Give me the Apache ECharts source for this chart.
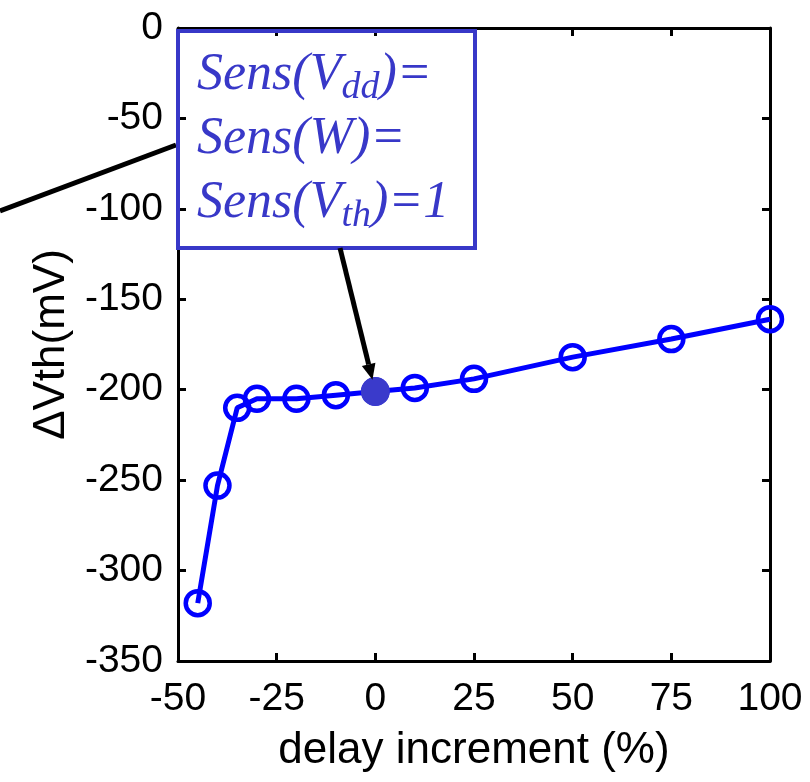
<!DOCTYPE html>
<html><head><meta charset="utf-8">
<script src="https://cdn.jsdelivr.net/npm/echarts@6/dist/echarts.min.js"></script>
<style>html,body{margin:0;padding:0;background:#fff}#c{width:810px;height:782px}</style>
</head><body><div id="c"></div>
<script>
// ---- data ----
const delayIncrement = [-45, -40, -35, -30, -20, -10, 0, 10, 25, 50, 75, 100];
const deltaVth = [-318, -253, -210, -205, -205, -203, -201, -199, -194, -182, -172, -161];
const highlightX = [0];
const highlightY = [-201];
const xMin = -50, xMax = 100, xInterval = 25;
const yMin = -350, yMax = 0, yInterval = 50;
const xName = 'delay increment (%)';
const yName = 'ΔVth(mV)';
const noteText = '{m|Sens(V}{s|dd}{m|)=}\n{m|Sens(W)=}\n{m|Sens(V}{s|th}{m|)=1}';

// ---- chart ----
const chart = echarts.init(document.getElementById('c'), null, {renderer: 'canvas'});
const FONT = "'Liberation Sans', Arial, sans-serif";
const SERIF = "'Liberation Serif', 'Times New Roman', serif";
const axisLine = {onZero: false, lineStyle: {color: '#000', width: 3}};
const tick = {inside: true, length: 8, lineStyle: {color: '#000', width: 3}};
const lbl = {fontSize: 39, color: '#000', fontFamily: FONT};
const noteColor = '#3838c8';

const lineData = delayIncrement.map((x, i) => [x, deltaVth[i]]);
const hiData = highlightX.map((x, i) => [x, highlightY[i]]);

chart.setOption({
  animation: false,
  backgroundColor: '#fff',
  grid: {left: 178, top: 28, right: 40, bottom: 121},
  xAxis: [
    {type: 'value', position: 'bottom', min: xMin, max: xMax, interval: xInterval,
     axisLine, axisTick: tick, splitLine: {show: false},
     axisLabel: Object.assign({margin: 19}, lbl),
     name: xName, nameLocation: 'middle', nameGap: 68,
     nameTextStyle: {fontSize: 44, color: '#000', fontFamily: FONT}},
    {type: 'value', position: 'top', min: xMin, max: xMax, interval: xInterval,
     axisLine, axisTick: tick, splitLine: {show: false}, axisLabel: {show: false}}
  ],
  yAxis: [
    {type: 'value', position: 'left', min: yMin, max: yMax, interval: yInterval,
     axisLine, axisTick: tick, splitLine: {show: false},
     axisLabel: Object.assign({margin: 15}, lbl),
     name: yName, nameLocation: 'middle', nameGap: 104, nameRotate: 90,
     nameTextStyle: {fontSize: 44, color: '#000', fontFamily: FONT}},
    {type: 'value', position: 'right', min: yMin, max: yMax, interval: yInterval,
     axisLine, axisTick: tick, splitLine: {show: false}, axisLabel: {show: false}}
  ],
  series: [
    {type: 'line', data: lineData, xAxisIndex: 0, yAxisIndex: 0,
     symbol: 'circle', symbolSize: 24,
     lineStyle: {color: '#0000ff', width: 5},
     itemStyle: {color: 'rgba(0,0,0,0)', borderColor: '#0000ff', borderWidth: 4.5},
     z: 3},
    {type: 'scatter', data: hiData, xAxisIndex: 0, yAxisIndex: 0,
     symbol: 'circle', symbolSize: 29,
     itemStyle: {color: '#3a3acb', opacity: 1}, z: 4}
  ]
});

// ---- annotations ----
const p = chart.convertToPixel({xAxisIndex: 0, yAxisIndex: 0}, hiData[0]);
const start = [340, 248];
const dx = p[0] - start[0], dy = p[1] - start[1];
const len = Math.sqrt(dx * dx + dy * dy);
const ux = dx / len, uy = dy / len;
const tip = [p[0] - ux * 12, p[1] - uy * 12];
const headLen = 16, headW = 7;
const base = [tip[0] - ux * headLen, tip[1] - uy * headLen];
const nx = -uy, ny = ux;

chart.setOption({
  graphic: [
    {type: 'line', z: 10, shape: {x1: 0, y1: 211, x2: 176, y2: 145},
     style: {stroke: '#000', lineWidth: 5}},
    {type: 'rect', z: 10, shape: {x: 178, y: 31, width: 297, height: 217},
     style: {fill: null, stroke: noteColor, lineWidth: 4}},
    {type: 'text', z: 11, x: 197, y: 43,
     style: {text: noteText, fill: noteColor, verticalAlign: 'top', align: 'left',
       rich: {
         m: {fontSize: 52, fontFamily: SERIF, fontStyle: 'italic', fontWeight: 'normal',
             color: noteColor, lineHeight: 64, verticalAlign: 'middle'},
         s: {fontSize: 38, fontFamily: SERIF, fontStyle: 'italic', fontWeight: 'normal',
             color: noteColor, lineHeight: 26, verticalAlign: 'bottom'}
       }}},
    {type: 'line', z: 10, shape: {x1: start[0], y1: start[1], x2: base[0], y2: base[1]},
     style: {stroke: '#000', lineWidth: 5}},
    {type: 'polygon', z: 10,
     shape: {points: [tip, [base[0] + nx * headW, base[1] + ny * headW], [base[0] - nx * headW, base[1] - ny * headW]]},
     style: {fill: '#000'}}
  ]
});
</script>
</body></html>
